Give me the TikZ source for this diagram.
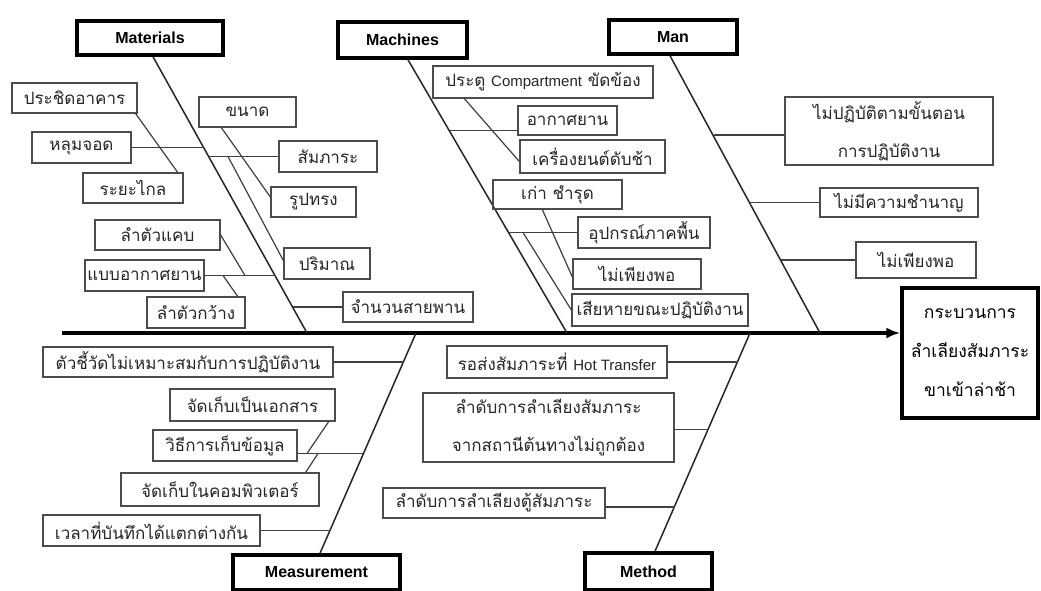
\documentclass[tikz,border=0pt]{standalone}
\usepackage{fontspec}
\setmainfont{Liberation Sans}
\newfontfamily\thaifont[Script=Thai]{Loma}
\usetikzlibrary{arrows.meta}
\begin{document}
\begin{tikzpicture}[x=1pt,y=-1pt,
  cat/.style={draw=black, line width=3.5pt, inner sep=0pt, font=\fontsize{16}{18}\selectfont\bfseries},
  effect/.style={draw=black, line width=3.5pt, inner sep=0pt, align=center, font=\thaifont\fontsize{17.5}{39}\selectfont},
  sub/.style={draw=black!70, line width=1.3pt, inner sep=0pt, align=center, text=black!85, font=\thaifont\fontsize{17}{38}\selectfont},
  bone/.style={line width=1.5pt, black!85},
  link/.style={line width=1.2pt, black!75},
  spine/.style={line width=3.5pt, black}]
\useasboundingbox (0,0) rectangle (1041,591);
\fill[white] (0,0) rectangle (1041,591);

% categories
\node[cat, minimum width=146, minimum height=34] (materials) at (150,38) {Materials};
\node[cat, minimum width=129, minimum height=36] (machines) at (402.5,40) {Machines};
\node[cat, minimum width=128, minimum height=34] (man) at (673,37) {Man};
\node[cat, minimum width=167, minimum height=35] (measurement) at (316.5,572.5) {Measurement};
\node[cat, minimum width=127, minimum height=37] (method) at (648.5,571.5) {Method};
\node[effect, minimum width=136, minimum height=130] (effect) at (970,353) {กระบวนการ\\ลำเลียงสัมภาระ\\ขาเข้าล่าช้า};

% spine
\coordinate (tail) at (62,333);
\draw[spine, -{Latex[length=14pt,width=11pt]}] (tail) -- (tail -| effect.west);

% bone ends on spine
\coordinate (matS) at (307,333);
\coordinate (macS) at (567,333);
\coordinate (manS) at (820,333);
\coordinate (meaS) at (416,333);
\coordinate (metS) at (750,333);
\draw[bone] ([xshift=3pt]materials.south) -- (matS);
\draw[bone] ([xshift=5.5pt]machines.south) -- (macS);
\draw[bone] ([xshift=-3pt]man.south) -- (manS);
\draw[bone] ([xshift=3.5pt]measurement.north) -- (meaS);
\draw[bone] ([xshift=6.5pt]method.north) -- (metS);

% Materials
\node[sub, minimum width=125, minimum height=30] (pc) at (74.5,98) {ประชิดอาคาร};
\node[sub, minimum width=99, minimum height=31] (hl) at (81.5,147.5) {หลุมจอด};
\node[sub, minimum width=100, minimum height=30] (rk) at (133,188) {ระยะไกล};
\node[sub, minimum width=97, minimum height=30] (kn) at (247.5,112) {ขนาด};
\node[sub, minimum width=98, minimum height=31] (sp) at (328,156.5) {สัมภาระ};
\node[sub, minimum width=85, minimum height=30] (rs) at (313.5,202) {รูปทรง};
\node[sub, minimum width=86, minimum height=31] (pm) at (327,263.5) {ปริมาณ};
\node[sub, minimum width=130, minimum height=30] (js) at (408,307) {จำนวนสายพาน};
\node[sub, minimum width=125, minimum height=30] (lk) at (157.5,235) {ลำตัวแคบ};
\node[sub, minimum width=119, minimum height=31] (ba) at (144.5,275.5) {แบบอากาศยาน};
\node[sub, minimum width=98, minimum height=31] (lw) at (196,312.5) {ลำตัวกว้าง};

\coordinate (hlB) at (204,147.5);
\coordinate (spB) at (209,156.5);
\coordinate (spK) at (228,156.5);
\coordinate (jsB) at (293,307);
\coordinate (baB) at (276,275.5);
\coordinate (lkK) at (245,275.5);
\coordinate (lwK) at (223,275.5);
\draw[link] (hl.east) -- (hlB);
\draw[link] ([xshift=-2pt]pc.south east) -- ([xshift=-6pt]rk.north east);
\draw[link] (sp.west) -- (spB);
\draw[link] ([xshift=23pt]kn.south west) -- ([yshift=5pt]rs.west);
\draw[link] (spK) -- ([yshift=3pt]pm.west);
\draw[link] (js.west) -- (jsB);
\draw[link] (ba.east) -- (baB);
\draw[link] (lk.east) -- (lkK);
\draw[link] (lwK) -- ([xshift=-8pt]lw.north east);

% Machines
\node[sub, minimum width=220, minimum height=32] (pt) at (543,82) {ประตู {\rmfamily\fontsize{15}{38}\selectfont Compartment} ขัดข้อง};
\node[sub, minimum width=99, minimum height=29] (ak) at (567.5,120.5) {อากาศยาน};
\node[sub, minimum width=145, minimum height=33] (ky) at (592.5,156.5) {เครื่องยนต์ดับช้า};
\node[sub, minimum width=129, minimum height=29] (kc) at (557.5,194.5) {เก่า ชำรุด};
\node[sub, minimum width=132, minimum height=31] (ap) at (644,232.5) {อุปกรณ์ภาคพื้น};
\node[sub, minimum width=128, minimum height=30] (mp) at (637,274) {ไม่เพียงพอ};
\node[sub, minimum width=176, minimum height=32] (sh) at (660,310) {เสียหายขณะปฏิบัติงาน};

\coordinate (akB) at (450,130.5);
\coordinate (apB) at (509,232.5);
\coordinate (shK) at (523,232.5);
\draw[link] ([yshift=-10pt]ak.west) -- (akB);
\draw[link] ([xshift=32pt]pt.south west) -- ([yshift=-5pt]ky.west);
\draw[link] (ap.west) -- (apB);
\draw[link] ([xshift=50pt]kc.south west) -- ([yshift=-3pt]mp.west);
\draw[link] (shK) -- (sh.west);

% Man
\node[sub, minimum width=208, minimum height=68] (m1) at (889,131) {ไม่ปฏิบัติตามขั้นตอน\\การปฏิบัติงาน};
\node[sub, minimum width=158, minimum height=29] (m2) at (899,202.5) {ไม่มีความชำนาญ};
\node[sub, minimum width=120, minimum height=36] (m3) at (916,260) {ไม่เพียงพอ};
\coordinate (m1B) at (713.5,135);
\coordinate (m2B) at (750,202.5);
\coordinate (m3B) at (781,260);
\draw[link] ([yshift=-4pt]m1.west) -- (m1B);
\draw[link] (m2.west) -- (m2B);
\draw[link] (m3.west) -- (m3B);

% Measurement
\node[sub, minimum width=290, minimum height=30] (e1) at (188,362) {ตัวชี้วัดไม่เหมาะสมกับการปฏิบัติงาน};
\node[sub, minimum width=165, minimum height=32] (e2) at (252.5,405) {จัดเก็บเป็นเอกสาร};
\node[sub, minimum width=144, minimum height=31] (e3) at (225,445.5) {วิธีการเก็บข้อมูล};
\node[sub, minimum width=198, minimum height=33] (e4) at (220,489.5) {จัดเก็บในคอมพิวเตอร์};
\node[sub, minimum width=217, minimum height=31] (e5) at (151.5,530.5) {เวลาที่บันทึกได้แตกต่างกัน};
\coordinate (e1B) at (403.5,362);
\coordinate (e3B) at (364,453.5);
\coordinate (e3K) at (307,453.5);
\coordinate (e4K) at (318,453.5);
\coordinate (e5B) at (331,530.5);
\draw[link] (e1.east) -- (e1B);
\draw[link] ([yshift=-8pt]e3.east) -- (e3B);
\draw[link] ([xshift=-7pt]e2.south east) -- (e3K);
\draw[link] (e4K) -- ([xshift=-14pt]e4.north east);
\draw[link] (e5.east) -- (e5B);

% Method
\node[sub, minimum width=220, minimum height=32] (t1) at (557,362) {รอส่งสัมภาระที่ {\rmfamily\fontsize{15}{38}\selectfont Hot Transfer}};
\node[sub, minimum width=251, minimum height=69] (t2) at (548.5,427.5) {ลำดับการลำเลียงสัมภาระ\\จากสถานีต้นทางไม่ถูกต้อง};
\node[sub, minimum width=222, minimum height=30] (t3) at (494,503) {ลำดับการลำเลียงตู้สัมภาระ};
\coordinate (t1B) at (737.5,362);
\coordinate (t2B) at (708,429.5);
\coordinate (t3B) at (675,507);
\draw[link] (t1.east) -- (t1B);
\draw[link] ([yshift=-2pt]t2.east) -- (t2B);
\draw[link] ([yshift=-4pt]t3.east) -- (t3B);
\end{tikzpicture}
\end{document}
